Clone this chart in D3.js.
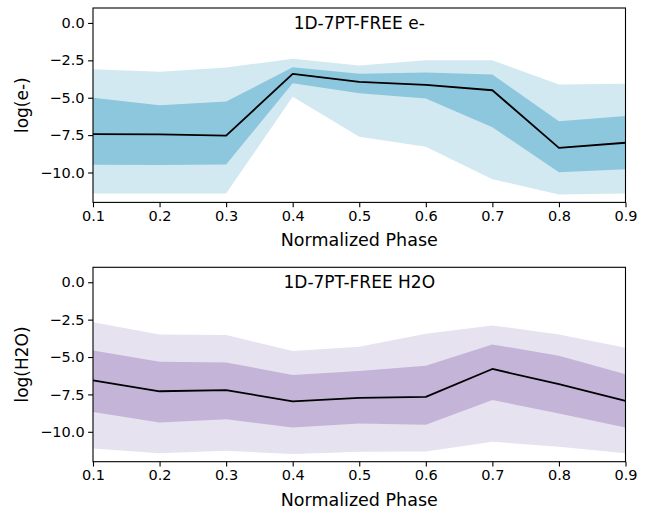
<!DOCTYPE html>
<html>
<head>
<meta charset="utf-8">
<script src="https://cdn.jsdelivr.net/npm/d3@7/dist/d3.min.js"></script>
<style>
  body { margin: 0; background: #fff; }
  svg { display: block; font-family: "DejaVu Sans", sans-serif; }
</style>
</head>
<body>
<svg id="chart" width="650" height="510"></svg>
<script>
const phases = [0.1, 0.2, 0.3, 0.4, 0.5, 0.6, 0.7, 0.8, 0.9];
const xTicks = [0.1, 0.2, 0.3, 0.4, 0.5, 0.6, 0.7, 0.8, 0.9];
const yTicks = [0.0, -2.5, -5.0, -7.5, -10.0];

// e- panel
const eMedian  = [-7.43, -7.45, -7.54, -3.40, -3.94, -4.14, -4.50, -8.35, -8.01];
const eDarkHi  = [-5.01, -5.50, -5.26, -2.97, -3.40, -3.31, -3.45, -6.58, -6.22];
const eDarkLo  = [-9.49, -9.50, -9.46, -4.03, -4.70, -5.06, -6.98, -9.98, -9.78];
const eLightHi = [-3.09, -3.27, -2.98, -2.40, -2.85, -2.49, -2.49, -4.12, -4.07];
const eLightLo = [-11.41, -11.41, -11.41, -4.93, -7.61, -8.28, -10.45, -11.48, -11.41];

// H2O panel
const hMedian  = [-6.56, -7.29, -7.22, -7.96, -7.73, -7.67, -5.80, -6.82, -7.93];
const hDarkHi  = [-4.56, -5.31, -5.36, -6.20, -5.93, -5.58, -4.16, -4.91, -6.16];
const hDarkLo  = [-8.67, -9.38, -9.16, -9.71, -9.44, -9.53, -7.87, -8.78, -9.71];
const hLightHi = [-2.67, -3.49, -3.53, -4.60, -4.31, -3.44, -2.89, -3.49, -4.38];
const hLightLo = [-11.11, -11.44, -11.27, -11.49, -11.33, -11.31, -10.67, -11.00, -11.44];

const panels = [
  { title: "1D-7PT-FREE e-", ylabel: "log(e-)", top: 8, median: eMedian,
    darkHi: eDarkHi, darkLo: eDarkLo, lightHi: eLightHi, lightLo: eLightLo,
    light: "#d3e9f1", dark: "#8dc7dd" },
  { title: "1D-7PT-FREE H2O", ylabel: "log(H2O)", top: 267.3, median: hMedian,
    darkHi: hDarkHi, darkLo: hDarkLo, lightHi: hLightHi, lightLo: hLightLo,
    light: "#e6e2f0", dark: "#c3b4d8" }
];

const svg = d3.select("#chart");
const left = 93, right = 625.5, h = 194.4;

panels.forEach(p => {
  const x = d3.scaleLinear().domain([0.1, 0.9]).range([left, right]);
  const y = d3.scaleLinear().domain([-12, 1]).range([p.top + h, p.top]);
  const g = svg.append("g");

  const area = (hi, lo) => d3.area()
    .x((d, i) => x(phases[i]))
    .y0((d, i) => y(lo[i]))
    .y1((d, i) => y(hi[i]))(phases);

  g.append("path").attr("d", area(p.lightHi, p.lightLo)).attr("fill", p.light);
  g.append("path").attr("d", area(p.darkHi, p.darkLo)).attr("fill", p.dark);

  g.append("path")
    .attr("d", d3.line().x((d, i) => x(phases[i])).y(d => y(d))(p.median))
    .attr("fill", "none").attr("stroke", "#000").attr("stroke-width", 1.8)
    .attr("stroke-linejoin", "round");

  const xAxis = g.append("g").attr("transform", `translate(0,${p.top + h})`)
    .call(d3.axisBottom(x).tickValues(xTicks).tickFormat(d3.format(".1f"))
      .tickSize(4.9).tickPadding(3.5));
  const yAxis = g.append("g").attr("transform", `translate(${left},0)`)
    .call(d3.axisLeft(y).tickValues(yTicks)
      .tickFormat(d => d3.format(".1f")(d).replace("-", "\u2212"))
      .tickSize(4.9).tickPadding(3.5));
  [xAxis, yAxis].forEach(a => {
    a.select(".domain").remove();
    a.selectAll("line").attr("stroke", "#000").attr("stroke-width", 1.1);
    a.selectAll("text").attr("font-size", 14.5).attr("fill", "#000")
      .attr("font-family", "DejaVu Sans");
  });

  g.append("rect").attr("x", left).attr("y", p.top)
    .attr("width", right - left).attr("height", h)
    .attr("fill", "none").attr("stroke", "#000").attr("stroke-width", 1.1);

  g.append("text").attr("x", (left + right) / 2).attr("y", p.top + 20.5)
    .attr("text-anchor", "middle").attr("font-size", 17).text(p.title);

  g.append("text").attr("x", (left + right) / 2).attr("y", p.top + h + 44)
    .attr("text-anchor", "middle").attr("font-size", 17.5).text("Normalized Phase");

  g.append("text")
    .attr("transform", `translate(28,${p.top + h / 2}) rotate(-90)`)
    .attr("text-anchor", "middle").attr("font-size", 17).text(p.ylabel);
});
</script>
</body>
</html>
